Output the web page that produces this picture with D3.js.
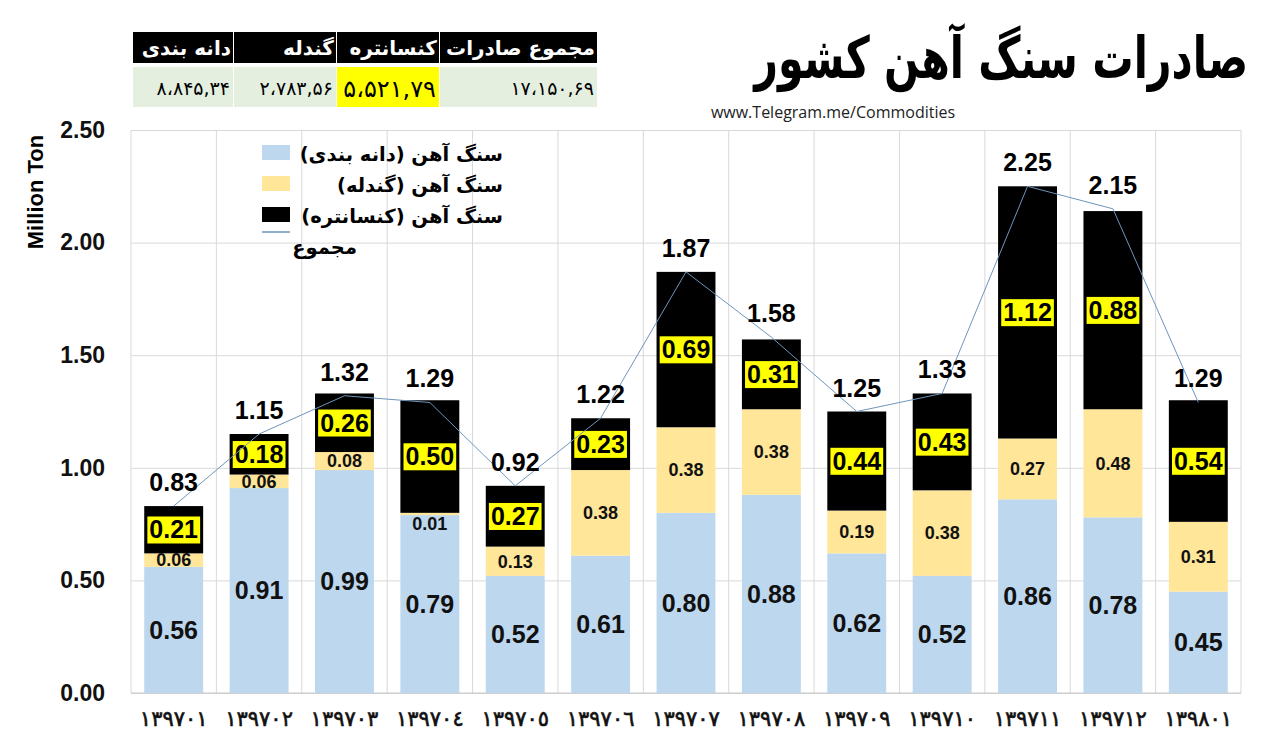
<!DOCTYPE html>
<html>
<head>
<meta charset="utf-8">
<script src="https://cdn.jsdelivr.net/npm/d3@7"></script>
<style>
  html, body { margin: 0; padding: 0; background: #fff; }
  svg { display: block; }
  .num { font-family: "Liberation Sans Narrow", "Arial Narrow", "Liberation Sans", Arial, sans-serif; font-weight: bold; }
  .fa { font-family: "DejaVu Sans", sans-serif; }
</style>
</head>
<body>
<svg id="chart" width="1280" height="748"></svg>
<script>
"use strict";

// months (x categories)
const months = ["١٣٩٧٠١", "١٣٩٧٠٢", "١٣٩٧٠٣", "١٣٩٧٠٤", "١٣٩٧٠٥", "١٣٩٧٠٦", "١٣٩٧٠٧",
                "١٣٩٧٠٨", "١٣٩٧٠٩", "١٣٩٧١٠", "١٣٩٧١١", "١٣٩٧١٢", "١٣٩٨٠١"];

// million ton
const granular    = [0.56, 0.91, 0.99, 0.79, 0.52, 0.61, 0.80, 0.88, 0.62, 0.52, 0.86, 0.78, 0.45];
const pellet      = [0.06, 0.06, 0.08, 0.01, 0.13, 0.38, 0.38, 0.38, 0.19, 0.38, 0.27, 0.48, 0.31];
const concentrate = [0.21, 0.18, 0.26, 0.50, 0.27, 0.23, 0.69, 0.31, 0.44, 0.43, 1.12, 0.88, 0.54];
const totals      = [0.83, 1.15, 1.32, 1.29, 0.92, 1.22, 1.87, 1.58, 1.25, 1.33, 2.25, 2.15, 1.29];

const seriesNames = ["سنگ آهن (دانه بندی)", "سنگ آهن (گندله)", "سنگ آهن (کنسانتره)", "مجموع"];
const yTicks = [0, 0.5, 1.0, 1.5, 2.0, 2.5];

// summary table (left to right)
const tableHeaders = ["دانه بندی", "گندله", "کنسانتره", "مجموع صادرات"];
const tableValues  = ["۸،۸۴۵,۳۴", "۲،۷۸۳,۵۶", "۵،۵۲۱,۷۹", "۱۷،۱۵۰,۶۹"];

const title = "صادرات سنگ آهن کشور";
const source = "www.Telegram.me/Commodities";

const colors = { granular: "#bdd7ee", pellet: "#ffe699", concentrate: "#000000", line: "#6d95bd" };

const svg = d3.select("#chart");
svg.append("rect").attr("width", 1280).attr("height", 748).attr("fill", "#fff");

const margin = { top: 130, right: 39, bottom: 55, left: 131 };
const width = 1280 - margin.left - margin.right;
const height = 748 - margin.top - margin.bottom;

const x = d3.scaleBand().domain(months).range([0, width]).paddingInner(0.31).paddingOuter(0.155);
const y = d3.scaleLinear().domain([0, 2.5]).range([height, 0]);

const g = svg.append("g").attr("transform", `translate(${margin.left},${margin.top})`);

// horizontal gridlines
g.append("g")
  .call(d3.axisLeft(y).tickValues(yTicks).tickSize(-width).tickFormat(""))
  .call(a => a.select(".domain").remove())
  .selectAll("line").attr("stroke", "#d9d9d9");

// vertical gridlines at category boundaries
const step = x.step();
g.append("g").selectAll("line")
  .data(d3.range(months.length + 1))
  .join("line")
  .attr("x1", i => i * step).attr("x2", i => i * step)
  .attr("y1", 0).attr("y2", height)
  .attr("stroke", "#d9d9d9");

// bottom axis line
g.append("line").attr("x1", 0).attr("x2", width).attr("y1", height).attr("y2", height).attr("stroke", "#c8c8c8");

// stacked data
const rows = months.map((m, i) => ({ month: m, granular: granular[i], pellet: pellet[i], concentrate: concentrate[i] }));
const keys = ["granular", "pellet", "concentrate"];
const stacked = d3.stack().keys(keys)(rows);

const layers = g.selectAll(".layer")
  .data(stacked)
  .join("g")
  .attr("class", "layer")
  .attr("fill", d => colors[d.key]);

layers.selectAll("rect")
  .data(d => d)
  .join("rect")
  .attr("x", d => x(d.data.month))
  .attr("y", d => y(d[1]))
  .attr("width", x.bandwidth())
  .attr("height", d => y(d[0]) - y(d[1]));

// segment labels
stacked.forEach(layer => {
  const lg = g.append("g");
  layer.forEach(d => {
    const cx = x(d.data.month) + x.bandwidth() / 2;
    const segH = y(d[0]) - y(d[1]);
    let cy = (y(d[0]) + y(d[1])) / 2;
    const v = d.data[layer.key];
    if (layer.key === "granular") {
      lg.append("text").attr("class", "num")
        .attr("x", cx).attr("y", cy).attr("dy", "0.35em")
        .attr("text-anchor", "middle").attr("font-size", 25).attr("fill", "#111")
        .text(v.toFixed(2));
    } else if (layer.key === "pellet") {
      if (segH < 6) cy = y(d[1]) + 11;
      lg.append("text").attr("class", "num")
        .attr("x", cx).attr("y", cy).attr("dy", "0.35em")
        .attr("text-anchor", "middle").attr("font-size", 18).attr("fill", "#111")
        .text(v.toFixed(2));
    } else {
      const t = lg.append("text").attr("class", "num")
        .attr("x", cx).attr("y", cy).attr("dy", "0.35em")
        .attr("text-anchor", "middle").attr("font-size", 25).attr("fill", "#000")
        .text(v.toFixed(2));
      const bb = t.node().getBBox();
      lg.insert("rect", () => t.node())
        .attr("x", bb.x - 2).attr("y", bb.y + 1)
        .attr("width", bb.width + 4).attr("height", bb.height - 1)
        .attr("fill", "#ffff00");
    }
  });
});

// total line
const line = d3.line()
  .x((d, i) => x(months[i]) + x.bandwidth() / 2)
  .y(d => y(d));
g.append("path").datum(totals)
  .attr("d", line)
  .attr("fill", "none")
  .attr("stroke", colors.line)
  .attr("stroke-width", 1);

// total labels
g.append("g").selectAll("text")
  .data(totals)
  .join("text")
  .attr("class", "num")
  .attr("x", (d, i) => x(months[i]) + x.bandwidth() / 2)
  .attr("y", d => y(d) - 15)
  .attr("text-anchor", "middle")
  .attr("font-size", 25)
  .attr("fill", "#000")
  .text(d => d.toFixed(2));

// y axis labels
g.append("g")
  .call(d3.axisLeft(y).tickValues(yTicks).tickSize(0).tickPadding(26).tickFormat(d3.format(".2f")))
  .call(a => a.select(".domain").remove())
  .selectAll("text")
  .attr("class", "num")
  .attr("font-size", 23)
  .attr("fill", "#111");

// x axis labels
g.append("g")
  .attr("transform", `translate(0,${height})`)
  .call(d3.axisBottom(x).tickSize(0).tickPadding(18))
  .call(a => a.select(".domain").remove())
  .selectAll("text")
  .attr("class", "fa")
  .attr("font-size", 21)
  .attr("fill", "#111")
  .attr("stroke", "#111")
  .attr("stroke-width", 0.6);

// y axis title
svg.append("text").attr("class", "num")
  .attr("transform", "translate(43,192) rotate(-90)")
  .attr("text-anchor", "middle")
  .attr("font-size", 22)
  .text("Million Ton");

// legend
const legend = svg.append("g").attr("transform", "translate(262,145)");
const legendColors = [colors.granular, colors.pellet, colors.concentrate];
seriesNames.forEach((name, i) => {
  const ly = i * 31;
  if (i < 3) {
    legend.append("rect").attr("x", 0).attr("y", ly).attr("width", 28).attr("height", 15).attr("fill", legendColors[i]);
  } else {
    legend.append("line").attr("x1", 0).attr("x2", 28).attr("y1", ly - 6).attr("y2", ly - 6)
      .attr("stroke", colors.line).attr("stroke-width", 1.5);
  }
  legend.append("text").attr("class", "fa")
    .attr("x", i < 3 ? 241 : 95).attr("y", ly + 16)
    .attr("direction", "rtl")
    .attr("text-anchor", "start")
    .attr("font-size", 19.5)
    .attr("font-weight", "bold")
    .attr("fill", "#000")
    .text(name);
});

// title and source
const titleText = svg.append("text").attr("class", "fa")
  .attr("x", 0).attr("y", 0)
  .attr("direction", "rtl").attr("text-anchor", "start")
  .attr("font-size", 58).attr("font-weight", "bold")
  .text(title);
const tb = titleText.node().getBBox();
const sx = 496 / tb.width;
titleText.attr("transform", `translate(1248,78) scale(${sx},1)`);

svg.append("text")
  .attr("x", 833).attr("y", 118)
  .attr("text-anchor", "middle")
  .attr("font-family", "'Open Sans', 'Liberation Sans', sans-serif")
  .attr("font-size", 16)
  .attr("fill", "#222")
  .text(source);

// summary table
const colEdges = [133, 234, 337, 440, 598];
const table = svg.append("g");
tableHeaders.forEach((h, i) => {
  const x0 = colEdges[i], x1 = colEdges[i + 1];
  table.append("rect").attr("x", x0).attr("y", 32).attr("width", x1 - x0 - 1).attr("height", 31).attr("fill", "#000");
  table.append("text").attr("class", "fa")
    .attr("x", x1 - 3).attr("y", 55)
    .attr("direction", "rtl").attr("text-anchor", "start")
    .attr("font-size", 20).attr("font-weight", "bold").attr("fill", "#fff")
    .text(h);
  table.append("rect").attr("x", x0).attr("y", 67).attr("width", x1 - x0 - 1).attr("height", 40)
    .attr("fill", i === 2 ? "#ffff00" : "#e5efe0");
  table.append("text").attr("class", "fa")
    .attr("x", x1 - 4).attr("y", i === 2 ? 97 : 95)
    .attr("text-anchor", "end")
    .attr("font-size", i === 2 ? 24 : 19)
    .attr("fill", "#000")
    .text(tableValues[i]);
});
</script>
</body>
</html>
